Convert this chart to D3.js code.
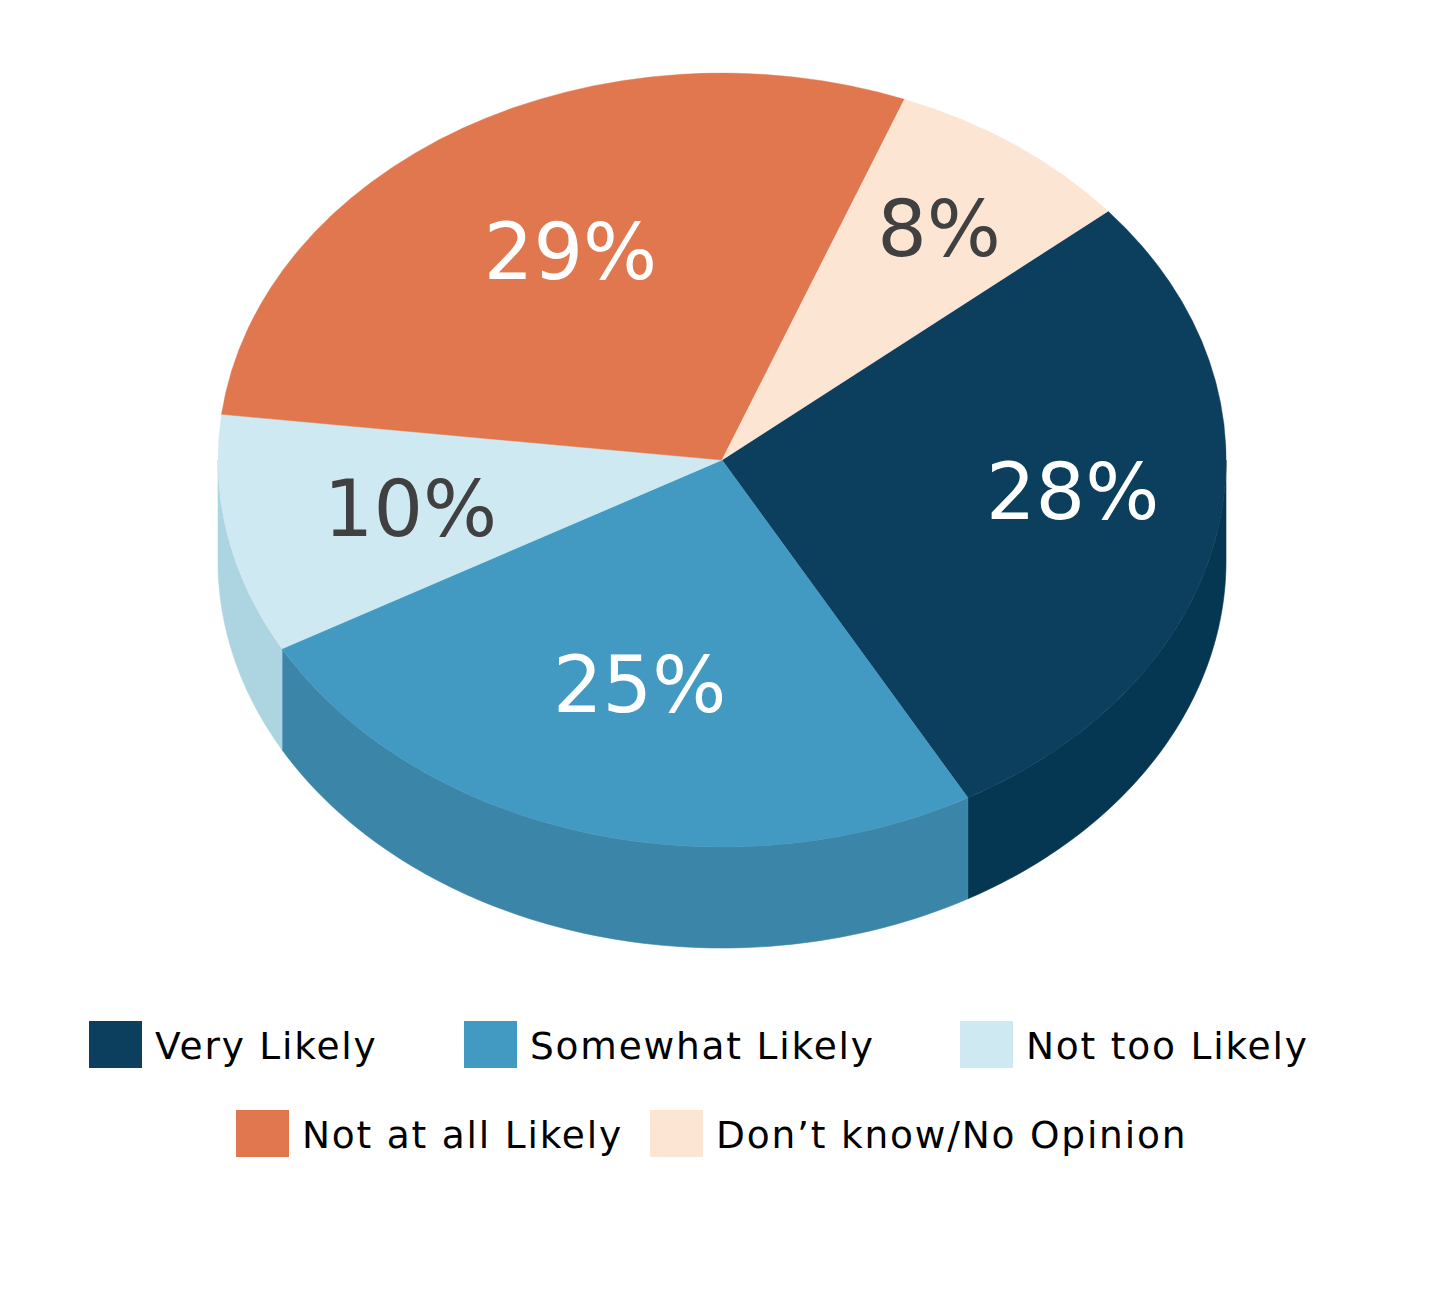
<!DOCTYPE html>
<html>
<head>
<meta charset="utf-8">
<script src="https://cdn.jsdelivr.net/npm/d3@7"></script>
<style>
  html, body { margin: 0; padding: 0; background: #ffffff; }
  svg { display: block; }
</style>
</head>
<body>
<svg id="chart" width="1440" height="1290"></svg>
<script>
// ---- data ----
const categories = ["Very Likely", "Somewhat Likely", "Not too Likely", "Not at all Likely", "Don\u2019t know/No Opinion"];
const values = [28, 25, 10, 29, 8];
const valueLabels = ["28%", "25%", "10%", "29%", "8%"];
const topColors = ["#0b3f5d", "#429ac2", "#cfe9f3", "#e0774e", "#fde5d4"];
const sideColors = ["#053652", "#3b85a8", "#add4e1", "#c9653f", "#e8cfbf"];
const labelColors = ["#ffffff", "#ffffff", "#404040", "#ffffff", "#404040"];

// ---- layout ----
const W = 1440, H = 1290;
const cx = 722, cy = 460, rx = 504, ry = 387, depth = 101;
const startDeg = 50;
const labelRadius = [0.70, 0.60, 0.63, 0.62, 0.74];
const labelAngleShift = [-4, 0, 0, 2, 0];
const labelFont = "'DejaVu Sans', sans-serif";
const labelSize = 78;

const svg = d3.select("#chart");

const start = startDeg * Math.PI / 180;
const pie = d3.pie().sort(null).value(d => d.value).startAngle(start).endAngle(start + 2 * Math.PI);
const data = categories.map((c, i) => ({ cat: c, value: values[i], i }));
const arcs = pie(data);

const pt = (a, r = 1, dy = 0) => [cx + rx * r * Math.sin(a), cy - ry * r * Math.cos(a) + dy];

// ---- side walls (visible front half: angles PI/2 .. 3PI/2) ----
const sideG = svg.append("g");
const line = d3.line();
arcs.forEach(a => {
  [0, 2 * Math.PI, -2 * Math.PI].forEach(shift => {
    const s = a.startAngle - shift, e = a.endAngle - shift;
    const a0 = Math.max(s, Math.PI / 2), a1 = Math.min(e, 3 * Math.PI / 2);
    if (a1 <= a0) return;
    const n = 80;
    const topPts = d3.range(n + 1).map(k => pt(a0 + (a1 - a0) * k / n));
    const botPts = d3.range(n + 1).map(k => pt(a1 - (a1 - a0) * k / n, 1, depth));
    sideG.append("path")
      .attr("d", line(topPts.concat(botPts)) + "Z")
      .attr("fill", sideColors[a.data.i])
      .attr("stroke", sideColors[a.data.i])
      .attr("stroke-width", 0.6);
  });
});

// ---- top face ----
const arc = d3.arc().innerRadius(0).outerRadius(1);
const topG = svg.append("g").attr("transform", `translate(${cx},${cy}) scale(${rx},${ry})`);
topG.selectAll("path")
  .data(arcs)
  .join("path")
  .attr("d", arc)
  .attr("fill", d => topColors[d.data.i])
  .attr("stroke", d => topColors[d.data.i])
  .attr("stroke-width", 0.001);

// ---- value labels ----
const labelAngle = d => (d.startAngle + d.endAngle) / 2 + labelAngleShift[d.data.i] * Math.PI / 180;
svg.append("g")
  .selectAll("text")
  .data(arcs)
  .join("text")
  .attr("x", d => pt(labelAngle(d), labelRadius[d.data.i])[0])
  .attr("y", d => pt(labelAngle(d), labelRadius[d.data.i])[1] + labelSize * 0.365)
  .attr("text-anchor", "middle")
  .attr("font-family", labelFont)
  .attr("font-size", labelSize)
  .attr("fill", d => labelColors[d.data.i])
  .text(d => valueLabels[d.data.i]);

// ---- legend ----
const legendX = [89, 464, 960, 236, 650];
const legendRow = [0, 0, 0, 1, 1];
const rowTop = [1021, 1110];
const sw = 53, sh = 47;
const lg = svg.append("g");
categories.forEach((c, i) => {
  const y0 = rowTop[legendRow[i]];
  lg.append("rect")
    .attr("x", legendX[i]).attr("y", y0)
    .attr("width", sw).attr("height", sh)
    .attr("fill", topColors[i]);
  lg.append("text")
    .attr("x", legendX[i] + sw + 13)
    .attr("y", y0 + 38)
    .attr("font-family", labelFont)
    .attr("font-size", 37.5)
    .attr("letter-spacing", 1.8)
    .attr("fill", "#000000")
    .text(c);
});
</script>
</body>
</html>
